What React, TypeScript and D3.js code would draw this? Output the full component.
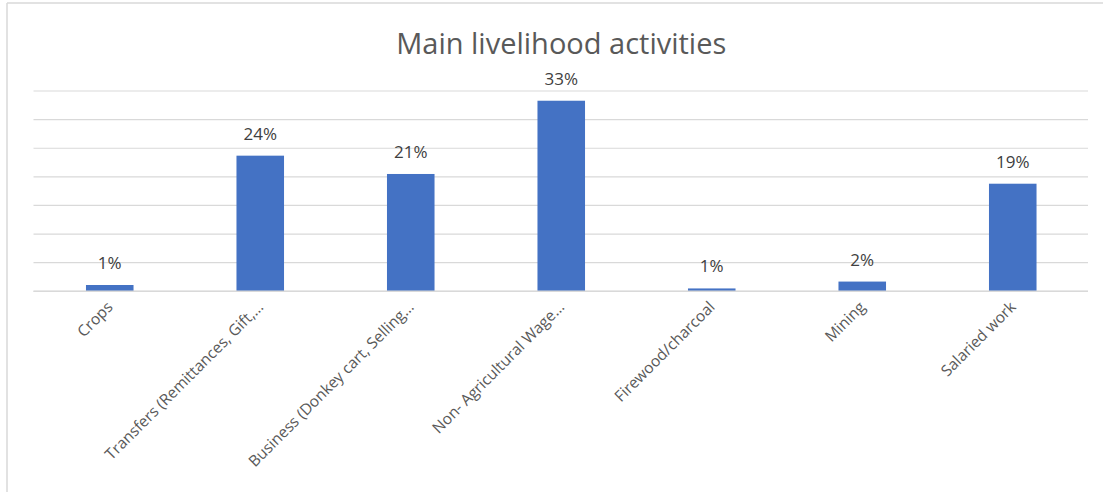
import React from "react";
import * as d3 from "d3";

const categories = [
  "Crops",
  "Transfers (Remittances, Gift,…",
  "Business (Donkey cart, Selling…",
  "Non- Agricultural Wage…",
  "Firewood/charcoal",
  "Mining",
  "Salaried work",
];
const values = [1.1, 23.7, 20.5, 33.3, 0.5, 1.7, 18.8];
const valueLabels = ["1%", "24%", "21%", "33%", "1%", "2%", "19%"];
const yTicks = [0, 5, 10, 15, 20, 25, 30, 35];
const title = "Main livelihood activities";

const W = 1103;
const H = 492;
const plot = { left: 34.5, right: 1088, top: 91, bottom: 291.3 };
const FONT = "'Open Sans', sans-serif";

export default function App() {
  const x = d3
    .scaleBand<string>()
    .domain(categories)
    .range([plot.left, plot.right])
    .paddingInner(0.684)
    .paddingOuter(0.342);
  const y = d3.scaleLinear().domain([0, 35]).range([plot.bottom, plot.top]);

  return (
    <svg
      width={W}
      height={H}
      style={{ position: "absolute", left: 0, top: 0, background: "#fff" }}
    >
      <rect x={0} y={0} width={W} height={H} fill="#fff" />
      {/* frame */}
      <line x1={7} y1={3} x2={W} y2={3} stroke="#d9d9d9" strokeWidth={1.5} />
      <line x1={7} y1={3} x2={7} y2={H} stroke="#d9d9d9" strokeWidth={1.5} />

      <text
        x={(plot.left + plot.right) / 2}
        y={54}
        textAnchor="middle"
        fontFamily={FONT}
        fontSize={29}
        fill="#595959"
      >
        {title}
      </text>

      {/* gridlines */}
      {yTicks.map((t) => (
        <line
          key={t}
          x1={plot.left - 1}
          x2={plot.right}
          y1={y(t)}
          y2={y(t)}
          stroke="#d9d9d9"
          strokeWidth={1.2}
        />
      ))}

      {/* bars */}
      {categories.map((c, i) => (
        <rect
          key={c}
          x={x(c)}
          y={y(values[i])}
          width={x.bandwidth()}
          height={y(0) - y(values[i])}
          fill="#4472c4"
        />
      ))}

      {/* baseline */}
      <line
        x1={plot.left - 1}
        x2={plot.right}
        y1={y(0)}
        y2={y(0)}
        stroke="#d9d9d9"
        strokeWidth={1.5}
      />

      {/* data labels */}
      {categories.map((c, i) => (
        <text
          key={c}
          x={(x(c) as number) + x.bandwidth() / 2}
          y={y(values[i]) - 16}
          textAnchor="middle"
          fontFamily={FONT}
          fontSize={17}
          fill="#404040"
        >
          {valueLabels[i]}
        </text>
      ))}

      {/* category labels */}
      {categories.map((c) => {
        const cx = (x(c) as number) + x.bandwidth() / 2 + 4;
        const cy = 308;
        return (
          <text
            key={c}
            transform={`translate(${cx},${cy}) rotate(-45)`}
            textAnchor="end"
            fontFamily={FONT}
            fontSize={15.5}
            fill="#595959"
          >
            {c}
          </text>
        );
      })}
    </svg>
  );
}
